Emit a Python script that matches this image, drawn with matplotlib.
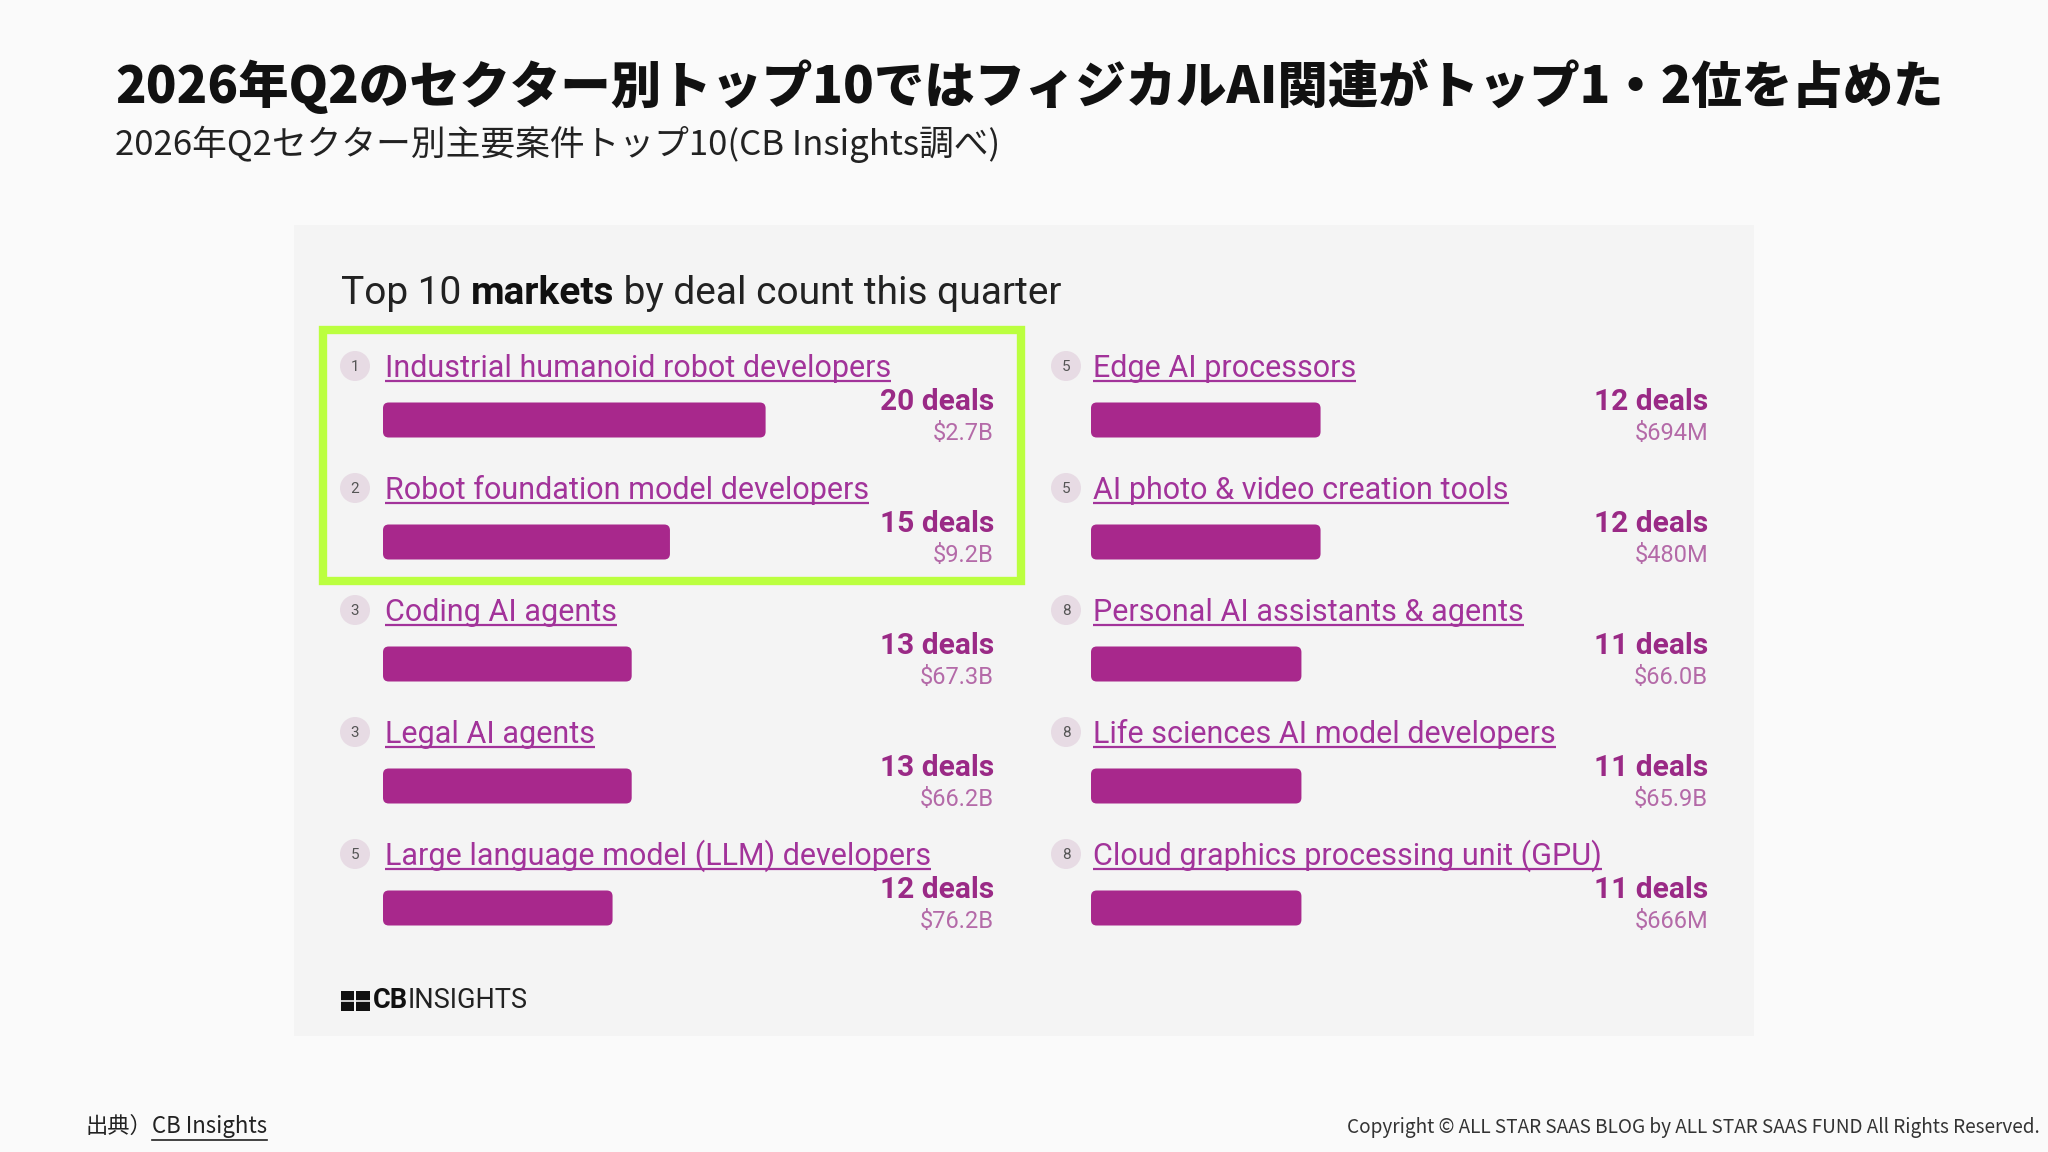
import matplotlib.pyplot as plt
from matplotlib.patches import FancyBboxPatch, Rectangle, Circle

ranks = [1, 2, 3, 3, 5, 5, 5, 8, 8, 8]
markets = [
    "Industrial humanoid robot developers",
    "Robot foundation model developers",
    "Coding AI agents",
    "Legal AI agents",
    "Large language model (LLM) developers",
    "Edge AI processors",
    "AI photo & video creation tools",
    "Personal AI assistants & agents",
    "Life sciences AI model developers",
    "Cloud graphics processing unit (GPU)",
]
deals = [20, 15, 13, 13, 12, 12, 12, 11, 11, 11]
funding = ["$2.7B", "$9.2B", "$67.3B", "$66.2B", "$76.2B",
           "$694M", "$480M", "$66.0B", "$65.9B", "$666M"]

title = "2026年Q2のセクター別トップ10ではフィジカルAI関連がトップ1・2位を占めた"
subtitle = "2026年Q2セクター別主要案件トップ10(CB Insights調べ)"

BG = "#fafafa"
CARD = "#f4f4f4"
BAR = "#a8288c"
LABEL = "#a2339a"
DEAL = "#9a2a86"
AMT = "#b46aa8"
GREEN = "#bbff3f"

W, H = 2048, 1152
fig = plt.figure(figsize=(W / 100, H / 100), dpi=100, facecolor=BG)
ax = fig.add_axes([0, 0, 1, 1])
ax.set_xlim(0, W)
ax.set_ylim(H, 0)
ax.axis("off")

jp = ["Noto Sans CJK JP", "DejaVu Sans"]

ax.text(115, 86, title, fontsize=36.3, fontweight="heavy", family=jp,
        va="center", ha="left", color="#111111")
ax.text(115, 144, subtitle, fontsize=25, family=jp, va="center",
        ha="left", color="#222222")

# card
ax.add_patch(Rectangle((294, 225), 1460, 811, facecolor=CARD, edgecolor="none"))

t1 = ax.text(341, 294, "Top 10 ", fontsize=28, family="Roboto",
             va="center", ha="left", color="#222222")
renderer = fig.canvas.get_renderer()
inv = ax.transData.inverted()


def right_of(t):
    bb = t.get_window_extent(renderer)
    return inv.transform((bb.x1, bb.y0))[0]


t2 = ax.text(right_of(t1), 294, "markets", fontsize=28, family="Roboto",
             fontweight="bold", va="center", ha="left", color="#111111")
ax.text(right_of(t2), 294, " by deal count this quarter", fontsize=28,
        family="Roboto", va="center", ha="left", color="#222222")

# highlight box round the top two
ax.add_patch(Rectangle((323, 330), 698, 251, facecolor="none",
                       edgecolor=GREEN, lw=6))

row_step = 122
cols = [
    dict(circle=355, label=385, bar=383, right=994),
    dict(circle=1066, label=1093, bar=1091, right=1708),
]
px_per_deal = 19.13
bar_h = 35 / row_step

for c, col in enumerate(cols):
    # bar axes: x in deals, y in row index
    top_px = 420 - row_step / 2
    bot_px = 420 + 4.5 * row_step
    xmax = 25
    bax = fig.add_axes([col["bar"] / W, 1 - bot_px / H,
                        xmax * px_per_deal / W, (bot_px - top_px) / H])
    bax.set_xlim(0, xmax)
    bax.set_ylim(4.5, -0.5)
    bax.axis("off")
    bax.patch.set_alpha(0)
    aspect = px_per_deal / row_step
    for i in range(5):
        k = c * 5 + i
        bax.add_patch(FancyBboxPatch(
            (0, i - bar_h / 2), deals[k], bar_h,
            boxstyle="round,pad=0,rounding_size=0.3",
            mutation_aspect=aspect, facecolor=BAR, edgecolor="none"))

        y = 366 + row_step * i
        ax.add_patch(Circle((col["circle"], y), 15, facecolor="#e7dbe4",
                            edgecolor="none"))
        ax.text(col["circle"], y + 1, str(ranks[k]), fontsize=11,
                family="Roboto", ha="center", va="center", color="#555555")
        lt = ax.text(col["label"], y + 11, markets[k], fontsize=22,
                     family="Roboto", ha="left", va="baseline", color=LABEL)
        ax.plot([col["label"], right_of(lt)], [y + 15, y + 15],
                color=LABEL, lw=1.6, solid_capstyle="butt")
        ax.text(col["right"], y + 36, f"{deals[k]} deals", fontsize=21.5,
                family="Roboto", fontweight="bold", ha="right", va="center",
                color=DEAL)
        ax.text(col["right"], y + 68, funding[k], fontsize=17,
                family="Roboto", ha="right", va="center", color=AMT)

# CB Insights logo
ax.add_patch(Rectangle((341, 991), 13, 20, facecolor="#111111", edgecolor="none"))
ax.add_patch(Rectangle((356, 991), 14, 20, facecolor="#111111", edgecolor="none"))
ax.plot([341, 370], [1001, 1001], color=CARD, lw=1.2)
lg = ax.text(373, 1001, "CB", fontsize=19.5, family="Roboto", fontweight="bold",
             ha="left", va="center", color="#111111")
ax.text(right_of(lg), 1001, "INSIGHTS", fontsize=19.5, family="Roboto",
        ha="left", va="center", color="#222222")

# footer
f1 = ax.text(85, 1126, "出典）", fontsize=16, family=jp, ha="left",
             va="center", color="#222222")
x0 = right_of(f1)
f2 = ax.text(x0, 1126, "CB Insights", fontsize=16, family=jp, ha="left",
             va="center", color="#222222")
ax.plot([x0, right_of(f2)], [1140, 1140], color="#222222", lw=1.2)
ax.text(2040, 1128,
        "Copyright © ALL STAR SAAS BLOG by ALL STAR SAAS FUND All Rights Reserved.",
        fontsize=13.7, family=jp, ha="right", va="center", color="#333333")

fig.savefig("out.png", dpi=100, facecolor=BG)
